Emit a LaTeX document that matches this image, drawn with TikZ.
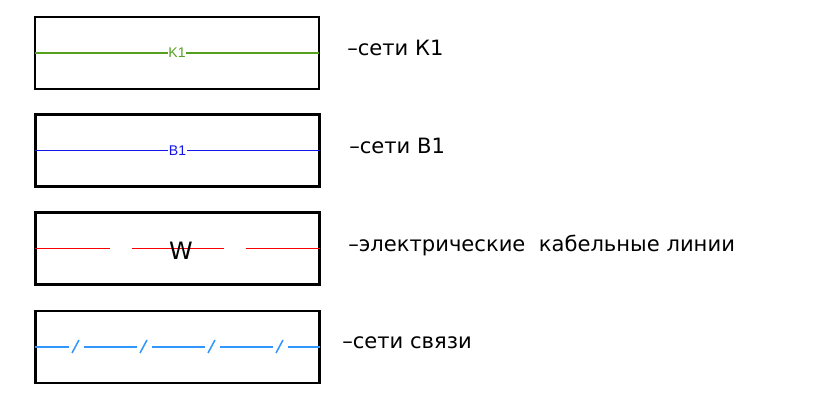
\documentclass[tikz,border=0pt]{standalone}
\usepackage{fontspec}
\setmainfont{DejaVu Sans}
\newfontfamily\tagfont{Liberation Sans}
\definecolor{netgreen}{RGB}{86,160,30}
\definecolor{netblue}{RGB}{20,20,235}
\definecolor{netred}{RGB}{250,0,0}
\definecolor{netsky}{RGB}{50,150,255}
\begin{document}
\begin{tikzpicture}[x=0.025cm, y=-0.025cm,
  box/.style={draw, line width=1.5pt, minimum width=7.1cm, minimum height=1.8cm, inner sep=0pt, outer sep=0pt},
  legend/.style={anchor=base west, inner sep=0pt, font=\fontsize{15}{17}\selectfont},
  tag/.style={fill=white, inner sep=0.5pt, font=\tagfont\fontsize{10}{11}\selectfont},
  net/.style={line width=1.1pt}]
\useasboundingbox (0,0) rectangle (828,405);
\node[box] (box1) at (177,53) {};
\node[box] (box2) at (177.5,150.5) {};
\node[box] (box3) at (177.5,248.5) {};
\node[box] (box4) at (177.5,347) {};
% water lines
\draw[net, netgreen] (box1.west) -- (box1.east);
\node[tag, text=netgreen] (k1) at (box1.center) {K1};
\draw[net, netblue] (box2.west) -- (box2.east);
\node[tag, text=netblue] (b1) at (box2.center) {B1};
% cable
\draw[net, netred, dash pattern=on 1.875cm off 0.55cm on 2.275cm off 0.55cm on 3cm] (box3.west) -- (box3.east);
\node[inner sep=0pt, font=\fontsize{17}{18}\selectfont] (w) at (181,251) {W};
% communication
\draw[net, netsky, dash pattern=on 1.325cm off 0.375cm, dash phase=0.4875cm] (box4.west) -- (box4.east);
\foreach \x in {75.5,143.5,211.5,279.5}
  \draw[net, netsky] (\x-3.5,353) -- (\x+3.5,340);
\node[legend] (t1) at (347,56) {–сети К1};
\node[legend] (t2) at (349,154) {–сети В1};
\node[legend] (t3) at (348,252) {–электрические\ \ кабельные линии};
\node[legend] (t4) at (342,349) {–сети связи};
\end{tikzpicture}
\end{document}
